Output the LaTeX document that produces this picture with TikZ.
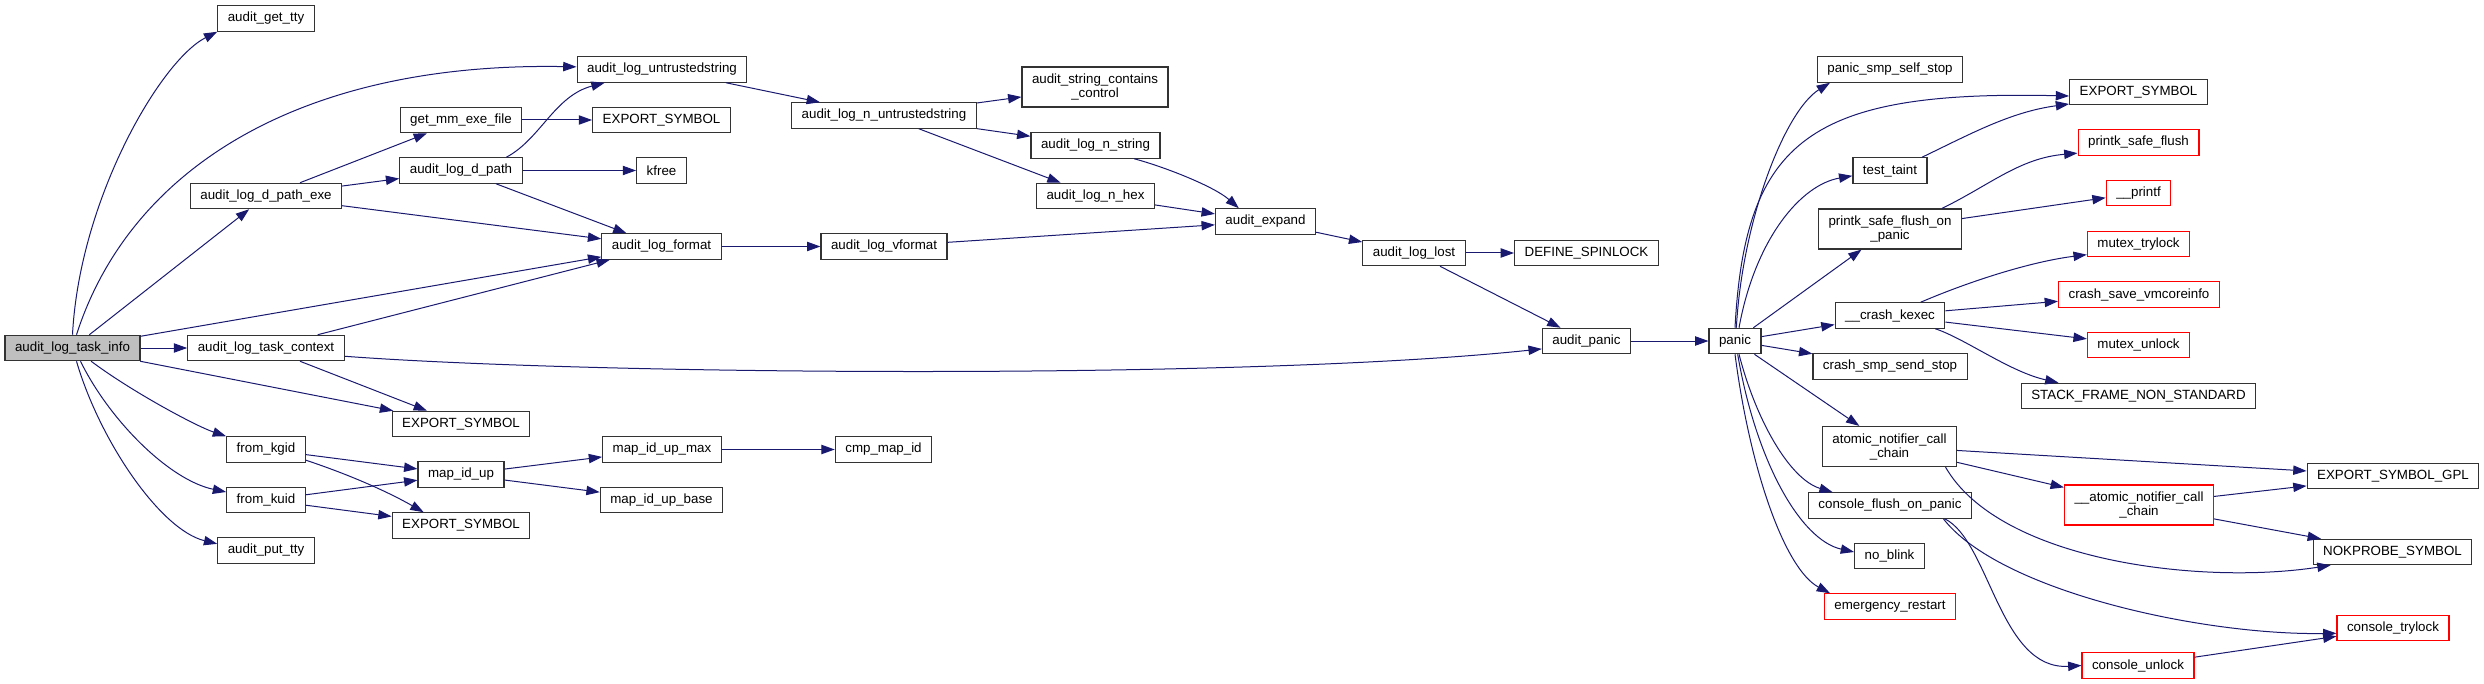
\documentclass[tikz,border=0pt]{standalone}
\usepackage{fontspec}
\setmainfont{Liberation Sans}
\usetikzlibrary{arrows.meta, calc}
\definecolor{edgeblue}{HTML}{191970}
\definecolor{rootgray}{HTML}{BFBFBF}

\begin{document}
\begin{tikzpicture}[
    x=0.75pt, y=-0.75pt,
    fn/.style={draw=#1, line width=0.9pt, fill=white, minimum height=19pt, inner xsep=7.5pt, inner ysep=2pt, font={\fontsize{10}{10.5}\selectfont}, align=center},
    fn/.default=black!80,
    two/.style={minimum height=30pt},
    arr/.style={-{Triangle[length=10pt, width=7pt]}, line width=0.75pt, edgeblue},
]
\useasboundingbox (0,0) rectangle (2484,684);

% Root
\node[fn, fill=rootgray] (info) at (72.5,348) {audit\_log\_task\_info};

% --- Callees of the root ---
\node[fn] (gettty) at (266,18.5) {audit\_get\_tty};
\node[fn] (dpexe) at (266,196) {audit\_log\_d\_path\_exe};
\node[fn] (ctx) at (266,348) {audit\_log\_task\_context};
\node[fn] (kgid) at (266,449.5) {from\_kgid};
\node[fn] (kuid) at (266,500) {from\_kuid};
\node[fn] (puttty) at (266,550.5) {audit\_put\_tty};

\node[fn] (getmm) at (461,120) {get\_mm\_exe\_file};
\node[fn] (dpath) at (461,170.5) {audit\_log\_d\_path};
\node[fn] (exp1) at (461,424) {EXPORT\_SYMBOL};
\node[fn] (mapup) at (461,474.5) {map\_id\_up};
\node[fn] (exp2) at (461,525.5) {EXPORT\_SYMBOL};

\node[fn] (untr) at (662,69.5) {audit\_log\_untrustedstring};
\node[fn] (exp0) at (661.5,120) {EXPORT\_SYMBOL};
\node[fn] (kfree) at (661.5,170.5) {kfree};
\node[fn] (fmt) at (661.5,246.5) {audit\_log\_format};
\node[fn] (upmax) at (662,449.5) {map\_id\_up\_max};
\node[fn] (upbase) at (661.5,500) {map\_id\_up\_base};

\node[fn] (nuntr) at (884,115.5) {audit\_log\_n\_untrustedstring};
\node[fn] (vfmt) at (884,246.5) {audit\_log\_vformat};
\node[fn] (cmpmap) at (883.5,449.5) {cmp\_map\_id};

\node[fn, two] (strctl) at (1095,87) {audit\_string\_contains\\\_control};
\node[fn] (nstr) at (1095.5,145.5) {audit\_log\_n\_string};
\node[fn] (nhex) at (1095.5,196) {audit\_log\_n\_hex};

% --- Expand, lost, panic ---
\node[fn] (expand) at (1265.5,221.5) {audit\_expand};
\node[fn] (lost) at (1414,253) {audit\_log\_lost};
\node[fn] (spin) at (1586.5,253) {DEFINE\_SPINLOCK};
\node[fn] (apanic) at (1586.5,341) {audit\_panic};
\node[fn] (panic) at (1735,341) {panic};

\node[fn] (selfstop) at (1890,69.5) {panic\_smp\_self\_stop};
\node[fn] (taint) at (1890,170.5) {test\_taint};
\node[fn, two] (flushp) at (1890,229) {printk\_safe\_flush\_on\\\_panic};
\node[fn] (kexec) at (1890,315.5) {\_\_crash\_kexec};
\node[fn] (sendstop) at (1890,366.5) {crash\_smp\_send\_stop};
\node[fn, two] (atomic) at (1889.5,446.5) {atomic\_notifier\_call\\\_chain};
\node[fn] (cflush) at (1890,505.5) {console\_flush\_on\_panic};
\node[fn] (noblink) at (1889.5,556) {no\_blink};
\node[fn=red] (emerg) at (1890,606.5) {emergency\_restart};

\node[fn] (exp3) at (2138.5,92) {EXPORT\_SYMBOL};
\node[fn=red] (pflush) at (2138.5,142.5) {printk\_safe\_flush};
\node[fn=red] (printf) at (2138.5,193) {\_\_printf};
\node[fn=red] (trylock) at (2138.5,244) {mutex\_trylock};
\node[fn=red] (vmcore) at (2139,294.5) {crash\_save\_vmcoreinfo};
\node[fn=red] (unlock) at (2138.5,345) {mutex\_unlock};
\node[fn] (stackf) at (2138.5,396) {STACK\_FRAME\_NON\_STANDARD};
\node[fn=red, two] (aatomic) at (2139,505) {\_\_atomic\_notifier\_call\\\_chain};
\node[fn=red] (cunlock) at (2138,665.5) {console\_unlock};

\node[fn] (gpl) at (2393,476) {EXPORT\_SYMBOL\_GPL};
\node[fn] (nokp) at (2392.5,552) {NOKPROBE\_SYMBOL};
\node[fn=red] (ctry) at (2393,628) {console\_trylock};

% --- Calls from the root ---
\draw[arr] (info.north) .. controls +(7,-135) and +(-57,29) .. (gettty.south west);
\draw[arr] ([xshift=3pt]info.north) .. controls +(53,-165) and +(-278,-5) .. ([yshift=2pt]untr.west);
\draw[arr] (info) -- (dpexe);
\draw[arr] (info) -- (fmt);
\draw[arr] (info) -- (ctx);
\draw[arr] (info) -- (exp1);
\draw[arr] ([xshift=14pt]info.south) .. controls +(40,30) and +(-30,-10) .. (kgid.north west);
\draw[arr] ([xshift=6pt]info.south) .. controls +(29,59) and +(-57,-12) .. ([yshift=6pt]kuid.west);
\draw[arr] ([xshift=3pt]info.south) .. controls +(23,79) and +(-57,-14) .. ([yshift=5pt]puttty.west);

% --- Second level ---
\draw[arr] (dpexe) -- (getmm);
\draw[arr] (dpexe) -- (dpath);
\draw[arr] (dpexe) -- (fmt);
\draw[arr] (getmm) -- (exp0);
\draw[arr] ([xshift=34pt]dpath.north) .. controls +(34,-18) and +(-50,13) .. ([xshift=-43pt]untr.south);
\draw[arr] (dpath) -- (kfree);
\draw[arr] (dpath) -- (fmt);
\draw[arr] (ctx) -- (fmt);
\draw[arr] (ctx) -- (exp1);
\draw[arr] (ctx.-6) .. controls +(256,19) and +(-292,31) .. (apanic.190);
\draw[arr] (kgid) -- (mapup);
\draw[arr] (kgid.-15) .. controls +(45,15) and +(-35,-20) .. ([xshift=-28pt]exp2.north);
\draw[arr] (kuid) -- (mapup);
\draw[arr] (kuid) -- (exp2);
\draw[arr] (mapup) -- (upmax);
\draw[arr] (mapup) -- (upbase);
\draw[arr] (upmax) -- (cmpmap);

% --- Logging chain ---
\draw[arr] (untr) -- (nuntr);
\draw[arr] (nuntr) -- (strctl);
\draw[arr] (nuntr) -- (nstr);
\draw[arr] (nuntr) -- (nhex);
\draw[arr] ([xshift=29pt]nstr.south) .. controls +(30,8) and +(-25,-22) .. ([xshift=-20pt]expand.north);
\draw[arr] (nhex) -- (expand);
\draw[arr] (fmt) -- (vfmt);
\draw[arr] (vfmt) -- (expand);
\draw[arr] (expand) -- (lost);
\draw[arr] (lost) -- (spin);
\draw[arr] (lost) -- (apanic);
\draw[arr] (apanic) -- (panic);

% --- Calls from panic ---
\draw[arr] ([xshift=1pt]panic.north) .. controls +(6,-108) and +(-45,28) .. ([xshift=-45pt]selfstop.south);
\draw[arr] (panic.north) .. controls +(10,-188) and +(-259,-6) .. ([yshift=-3pt]exp3.west);
\draw[arr] ([xshift=3pt]panic.north) .. controls +(16,-88) and +(-52,9) .. ([yshift=-4pt]taint.west);
\draw[arr] (panic) -- (flushp);
\draw[arr] (panic) -- (kexec);
\draw[arr] (panic) -- (sendstop);
\draw[arr] (panic) -- (atomic);
\draw[arr] ([xshift=3pt]panic.south) .. controls +(17,66) and +(-43,-13) .. ([xshift=-43pt]cflush.north);
\draw[arr] ([xshift=2pt]panic.south) .. controls +(18,106) and +(-54,-12) .. ([yshift=3pt]noblink.west);
\draw[arr] (panic.south) .. controls +(15,116) and +(-45,-24) .. ([xshift=-45pt]emerg.north);

% --- Right columns ---
\draw[arr] ([xshift=24pt]taint.north) .. controls +(48,-23) and +(-59,8) .. ([yshift=-9pt]exp3.west);
\draw[arr] ([xshift=39pt]flushp.north) .. controls +(49,-24) and +(-58,5) .. ([yshift=-8pt]pflush.west);
\draw[arr] (flushp) -- (printf);
\draw[arr] ([xshift=23pt]kexec.north) .. controls +(49,-21) and +(-56,7) .. ([yshift=-8pt]trylock.west);
\draw[arr] (kexec) -- (vmcore);
\draw[arr] (kexec) -- (unlock);
\draw[arr] ([xshift=34pt]kexec.south) .. controls +(30,10) and +(-49,-11) .. ([xshift=-60pt]stackf.north);
\draw[arr] (atomic) -- (gpl);
\draw[arr] (atomic) -- (aatomic);
\draw[arr] ([xshift=42pt]atomic.south) .. controls +(54,94) and +(-130,20) .. ([xshift=13.5pt]nokp.south west);
\draw[arr] (aatomic) -- (gpl);
\draw[arr] (aatomic) -- (nokp);
\draw[arr] ([xshift=40pt]cflush.south) .. controls +(56,72) and +(-136,2) .. ([yshift=-4pt]ctry.west);
\draw[arr] ([xshift=41pt]cflush.south) .. controls +(45,22) and +(-82,5) .. (cunlock.west);
\draw[arr] (cunlock) -- (ctry);

\end{tikzpicture}
\end{document}
